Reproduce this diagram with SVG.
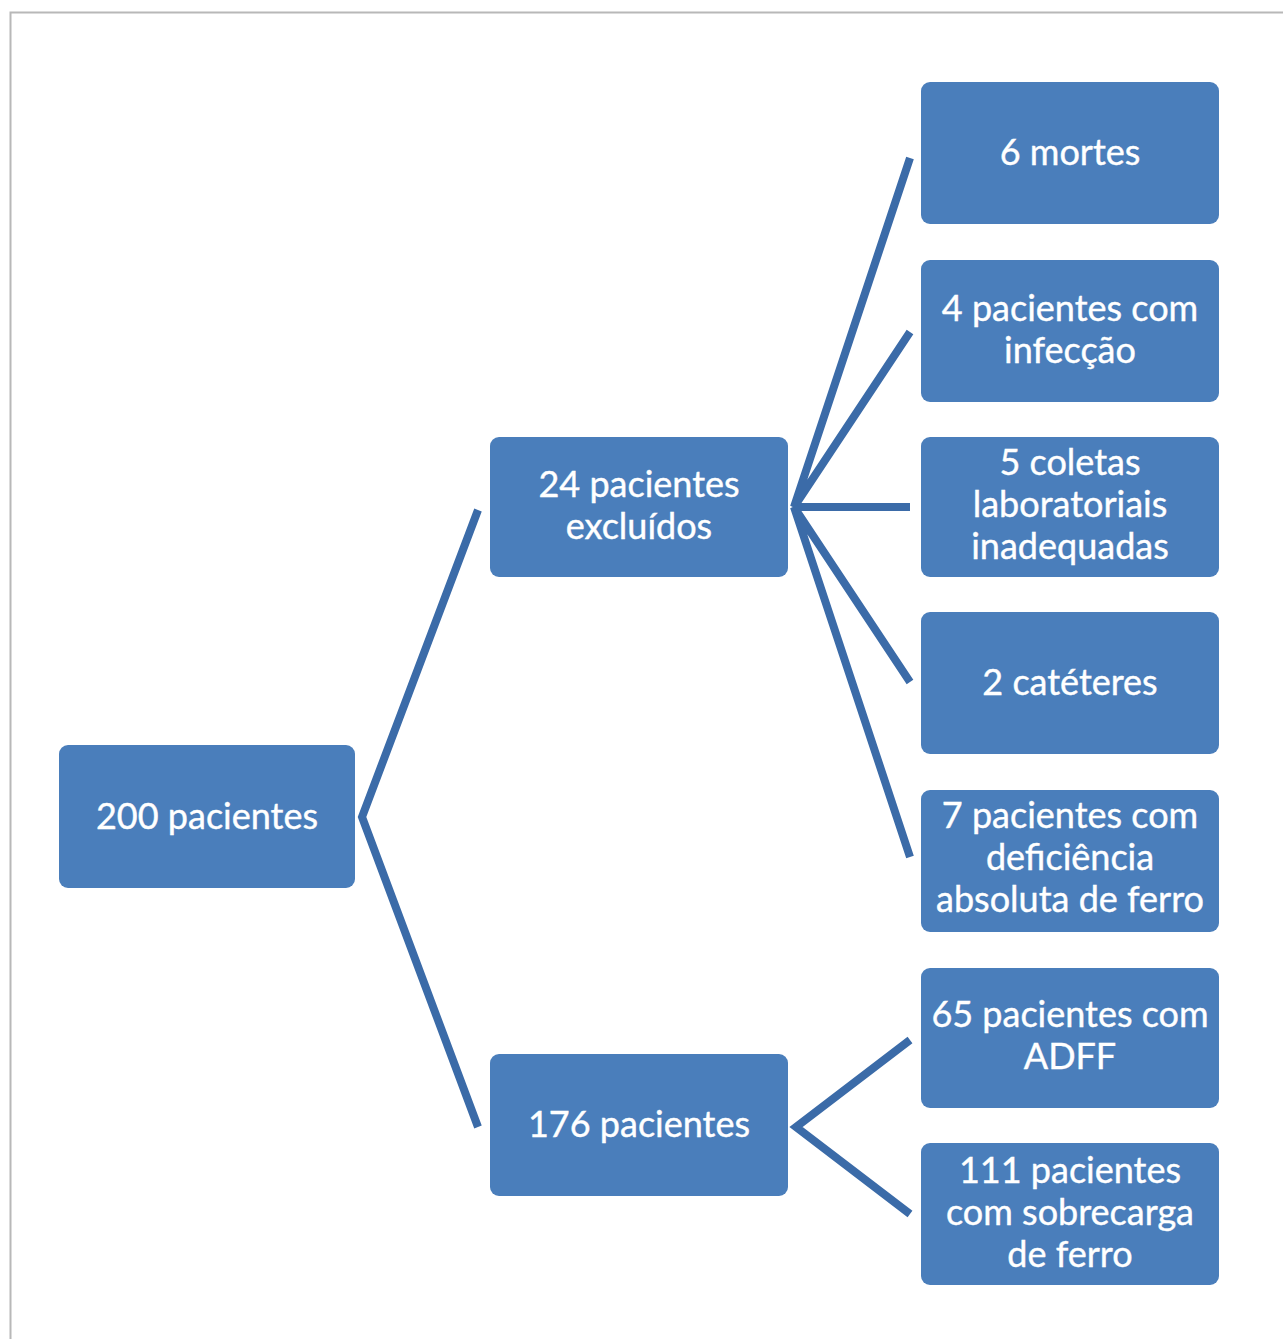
<svg xmlns="http://www.w3.org/2000/svg" width="1283" height="1339" viewBox="0 0 1283 1339">
<style>
.box{fill:#4a7ebb;}
.t{fill:#ffffff;font-family:Lato,"Open Sans","Liberation Sans",sans-serif;font-size:36px;text-anchor:middle;stroke:#ffffff;stroke-width:0.4;}
.c{stroke:#3b6ba8;stroke-width:8;fill:none;stroke-linecap:butt;}
</style>
<rect x="0" y="0" width="1283" height="1339" fill="#ffffff"/>
<path d="M10.5 1339 V12.5 H1283" fill="none" stroke="#b8b8b8" stroke-width="2"/>
<g id="connectors">
<path class="c" d="M478 510 L362 817 L478 1127"/>
<path class="c" d="M910 158 L794 507 L910 332"/>
<path class="c" d="M794 507 L910 507"/>
<path class="c" d="M910 682 L794 507 L910 857"/>
<path class="c" d="M910 1040 L796 1127 L910 1214"/>
</g>
<g id="n200"><rect class="box" x="59" y="745" width="296" height="143" rx="9"/><text class="t" x="207" y="829">200 pacientes</text></g>
<g id="n24"><rect class="box" x="490" y="437" width="298" height="140" rx="9"/><text class="t" x="639" y="497">24 pacientes</text><text class="t" x="639" y="539">excluídos</text></g>
<g id="n176"><rect class="box" x="490" y="1054" width="298" height="142" rx="9"/><text class="t" x="639" y="1137">176 pacientes</text></g>
<g id="n6"><rect class="box" x="921" y="82" width="298" height="142" rx="9"/><text class="t" x="1070" y="165">6 mortes</text></g>
<g id="n4"><rect class="box" x="921" y="260" width="298" height="142" rx="9"/><text class="t" x="1070" y="321">4 pacientes com</text><text class="t" x="1070" y="363">infecção</text></g>
<g id="n5"><rect class="box" x="921" y="437" width="298" height="140" rx="9"/><text class="t" x="1070" y="475">5 coletas</text><text class="t" x="1070" y="517">laboratoriais</text><text class="t" x="1070" y="559">inadequadas</text></g>
<g id="n2"><rect class="box" x="921" y="612" width="298" height="142" rx="9"/><text class="t" x="1070" y="695">2 catéteres</text></g>
<g id="n7"><rect class="box" x="921" y="790" width="298" height="142" rx="9"/><text class="t" x="1070" y="828">7 pacientes com</text><text class="t" x="1070" y="870">deficiência</text><text class="t" x="1070" y="912">absoluta de ferro</text></g>
<g id="n65"><rect class="box" x="921" y="968" width="298" height="140" rx="9"/><text class="t" x="1070" y="1027">65 pacientes com</text><text class="t" x="1070" y="1069">ADFF</text></g>
<g id="n111"><rect class="box" x="921" y="1143" width="298" height="142" rx="9"/><text class="t" x="1070" y="1183">111 pacientes</text><text class="t" x="1070" y="1225">com sobrecarga</text><text class="t" x="1070" y="1267">de ferro</text></g>
</svg>
